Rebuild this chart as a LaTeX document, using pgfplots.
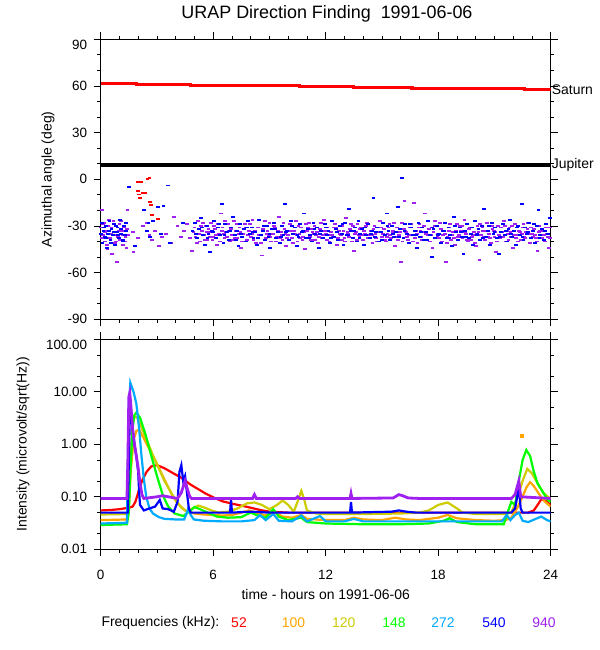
\documentclass[border=0pt]{standalone}
\usepackage{fontspec}
\setmainfont{Liberation Sans}
\usepackage{pgfplots}
\pgfplotsset{compat=1.18}
\definecolor{cA}{RGB}{255,0,0}
\definecolor{cB}{RGB}{255,165,0}
\definecolor{cC}{RGB}{204,204,0}
\definecolor{cD}{RGB}{0,255,0}
\definecolor{cE}{RGB}{0,170,255}
\definecolor{cF}{RGB}{0,0,255}
\definecolor{cG}{RGB}{160,32,240}
\pgfplotsset{
  common/.style={
    scale only axis, width=450bp, xmin=0, xmax=24,
    xtick={0,6,12,18,24}, minor x tick num=5,
    tick align=outside, major tick length=7bp, minor tick length=3.5bp,
    tick style={black, line width=0.8bp}, axis line style={line width=0.8bp},
    tick label style={font=\fontsize{13.5}{16}\selectfont},
    /pgf/number format/assume math mode=true,
    yticklabel style={xshift=-3bp},
    clip mode=individual,
  },
  dash/.style={only marks, mark=-, mark size=1.9bp, mark options={line width=1.9bp}},
  iline/.style={line width=2.2bp, no marks},
}
\begin{document}
\begin{tikzpicture}
\path[use as bounding box] (0bp,0bp) rectangle (600bp,650bp);
\node[font=\fontsize{18}{20}\selectfont] at (327bp,636bp) {URAP Direction Finding\ \ 1991-06-06};
\node[font=\fontsize{14}{16}\selectfont, rotate=90] at (48bp,470.7bp) {Azimuthal angle (deg)};
\node[font=\fontsize{14}{16}\selectfont, rotate=90] at (23bp,205.7bp) {Intensity (microvolt/sqrt(Hz))};
\node[font=\fontsize{14}{16}\selectfont] at (325.7bp,55bp) {time - hours on 1991-06-06};
% ---------------- top panel
\begin{axis}[common, at={(100.7bp,330.7bp)}, anchor=south west, height=280bp,
  ymin=-90, ymax=90, ytick={-90,-60,-30,0,30,60}, minor ytick={-80,-70,-50,-40,-20,-10,10,20,40,50,70,80},
  extra y ticks={90}, extra y tick labels={90},
  extra y tick style={yticklabel style={yshift=-6bp}},
  xticklabels={},
]
\addplot[cA, line width=3.2bp, const plot, no marks] coordinates {(0,61.5) (1.9,61) (4.8,60.3) (10.6,59.6) (13.5,58.9) (16.6,58.2) (22.6,57.5) (24,57.5)};
\addplot[black, line width=3.2bp, no marks] coordinates {(0,9.2) (24,9.2)};
\addplot[dash, cG] coordinates {
(0.02,-31) (0.08,-20) (0.12,-36) (0.18,-28) (0.25,-40) (0.3,-33) (0.36,-45) (0.42,-30) (0.5,-38) (0.55,-35) (0.62,-48) (0.68,-27) (0.75,-41) (0.8,-34) (0.88,-53) (0.93,-37) (1.0,-29) (1.05,-39) (1.12,-33) (1.2,-42) (1.26,-31) (1.32,-37) (1.38,-44) (1.43,-20) (1.46,-36) (1.72,-34) (1.75,-47) (2.0,-38) (2.25,-30) (2.45,-28) (2.6,-36) (2.75,-39) (2.9,-33) (3.1,-43) (3.25,-37) (3.5,-35) (3.75,-41) (3.9,-24) (4.1,-30) (4.3,-37) (4.45,-33) (4.6,-29) (4.75,-38) (4.85,-46)
(5.0,-31) (5.1,-35) (5.2,-27) (5.3,-40) (5.42,-33) (5.5,-36) (5.6,-30) (5.7,-39) (5.8,-34) (5.9,-28) (6.0,-37) (6.1,-32) (6.2,-42) (6.3,-35) (6.4,-22) (6.5,-31) (6.6,-38) (6.7,-34) (6.8,-29) (6.9,-40) (7.0,-36) (7.1,-27) (7.2,-33) (7.3,-38) (7.4,-31) (7.5,-44) (7.6,-35) (7.7,-29) (7.8,-39) (7.9,-33) (8.0,-37) (8.1,-26) (8.2,-34) (8.3,-41) (8.4,-31) (8.5,-36) (8.6,-49) (8.7,-30) (8.8,-38) (8.9,-33) (9.0,-28) (9.1,-40) (9.2,-35) (9.3,-31) (9.4,-37) (9.5,-24) (9.6,-34) (9.7,-39) (9.8,-32) (9.9,-43)
(10.0,-36) (10.1,-29) (10.2,-38) (10.3,-33) (10.4,-27) (10.5,-40) (10.6,-35) (10.7,-31) (10.8,-37) (10.9,-45) (11.0,-33) (11.1,-28) (11.2,-39) (11.3,-34) (11.4,-30) (11.5,-36) (11.6,-41) (11.7,-32) (11.8,-38) (11.9,-26) (12.0,-35) (12.1,-31) (12.2,-40) (12.3,-34) (12.4,-37) (12.5,-29) (12.6,-42) (12.7,-33) (12.8,-36) (12.9,-30) (13.0,-38) (13.1,-25) (13.2,-35) (13.3,-32) (13.4,-40) (13.5,-46) (13.6,-34) (13.7,-29) (13.8,-37) (13.9,-31) (14.0,-39) (14.1,-35) (14.2,-28) (14.3,-36) (14.4,-33) (14.5,-41) (14.6,-30) (14.7,-38) (14.8,-34) (14.9,-27)
(15.0,-37) (15.1,-32) (15.2,-40) (15.3,-35) (15.4,-29) (15.5,-38) (15.6,-33) (15.7,-43) (15.8,-31) (15.9,-36) (16.0,-53) (16.05,-28) (16.2,-14) (16.3,-34) (16.4,-39) (16.5,-31) (16.6,-36) (16.7,-15) (16.8,-33) (16.9,-41) (17.0,-29) (17.1,-37) (17.2,-34) (17.3,-22) (17.4,-39) (17.5,-32) (17.6,-36) (17.7,-44) (17.8,-30) (17.9,-38) (18.0,-35) (18.1,-28) (18.2,-40) (18.3,-33) (18.4,-53) (18.5,-37) (18.6,-31) (18.7,-39) (18.8,-34) (18.9,-42) (19.0,-29) (19.1,-36) (19.2,-33) (19.3,-38) (19.4,-26) (19.5,-35) (19.6,-40) (19.7,-31) (19.8,-37) (19.9,-34)
(20.0,-43) (20.1,-30) (20.2,-52) (20.3,-36) (20.4,-33) (20.5,-39) (20.6,-28) (20.7,-35) (20.8,-41) (20.9,-32) (21.0,-37) (21.1,-47) (21.2,-30) (21.3,-38) (21.4,-34) (21.5,-27) (21.6,-40) (21.7,-35) (21.8,-31) (21.9,-37) (22.0,-44) (22.1,-29) (22.2,-36) (22.3,-33) (22.4,-39) (22.5,-31) (22.6,-37) (22.7,-34) (22.8,-28) (22.9,-41) (23.0,-35) (23.1,-32) (23.2,-38) (23.3,-46) (23.4,-30) (23.5,-36) (23.6,-33) (23.7,-40) (23.8,-35) (23.9,-44) (23.95,-31)
(5.06,-37) (5.36,-30) (5.66,-34) (5.96,-39) (6.26,-29) (6.56,-35) (6.86,-33) (7.16,-38) (7.46,-34) (7.76,-31) (8.06,-35) (8.36,-38) (8.66,-32) (8.96,-36) (9.26,-30) (9.56,-38) (9.86,-35) (10.16,-33) (10.46,-36) (10.76,-39) (11.06,-31) (11.36,-35) (11.66,-37) (11.96,-33) (12.26,-36) (12.56,-31) (12.86,-39) (13.16,-34) (13.46,-30) (13.76,-36) (14.06,-33) (14.36,-38) (14.66,-35) (14.96,-31) (15.26,-37) (15.56,-34) (15.86,-39) (16.16,-32) (16.46,-36) (16.76,-38) (17.06,-33) (17.36,-35) (17.66,-31) (17.96,-37) (18.26,-36) (18.56,-33) (18.86,-38) (19.16,-30) (19.46,-34) (19.76,-39) (20.06,-35) (20.36,-31) (20.66,-37) (20.96,-33) (21.26,-36) (21.56,-30) (21.86,-34) (22.16,-38) (22.46,-35) (22.76,-32) (23.06,-37) (23.36,-34) (23.66,-36) (23.96,-38)
(0.06,-38) (0.14,-29) (0.21,-34) (0.33,-42) (0.45,-26) (0.58,-31) (0.7,-36) (0.83,-40) (0.97,-33) (1.09,-27) (1.17,-36) (1.29,-40) (1.41,-32)
(4.95,-34) (5.15,-41) (5.25,-35) (5.45,-28) (5.55,-39) (5.75,-32) (5.85,-37) (6.05,-30) (6.15,-36) (6.35,-40) (6.45,-33) (6.65,-27) (6.75,-37) (6.95,-32) (7.05,-39) (7.25,-29) (7.35,-35) (7.55,-40) (7.65,-32) (7.85,-36) (7.95,-29) (8.15,-39) (8.25,-33) (8.45,-36) (8.55,-41) (8.75,-27) (8.85,-35) (9.05,-37) (9.15,-32) (9.35,-40) (9.45,-33) (9.65,-36) (9.75,-28) (9.95,-38) (10.05,-33) (10.25,-41) (10.35,-35) (10.55,-30) (10.65,-38) (10.85,-34) (10.95,-29) (11.15,-37) (11.25,-32) (11.45,-39) (11.55,-34) (11.75,-28) (11.85,-36) (12.05,-39) (12.15,-33) (12.35,-36) (12.45,-31) (12.65,-38) (12.75,-35) (12.95,-33) (13.05,-40) (13.25,-37) (13.35,-29) (13.55,-35) (13.65,-39) (13.85,-32) (13.95,-36) (14.15,-30) (14.25,-38) (14.45,-36) (14.55,-32) (14.75,-40) (14.85,-31) (15.05,-35) (15.15,-39) (15.35,-31) (15.45,-36) (15.65,-28) (15.75,-37) (15.95,-34) (16.1,-40) (16.25,-33) (16.35,-37) (16.55,-29) (16.65,-40) (16.85,-35) (16.95,-31) (17.15,-39) (17.25,-30) (17.45,-36) (17.55,-40) (17.75,-34) (17.85,-27) (18.05,-38) (18.15,-32) (18.35,-35) (18.45,-41) (18.65,-29) (18.75,-36) (18.95,-33) (19.05,-37) (19.25,-30) (19.35,-34) (19.55,-39) (19.65,-32) (19.85,-36) (19.95,-41) (20.15,-34) (20.25,-29) (20.45,-37) (20.55,-33) (20.75,-38) (20.85,-30) (21.05,-34) (21.15,-40) (21.35,-31) (21.45,-37) (21.65,-33) (21.75,-39) (21.95,-30) (22.05,-36) (22.25,-40) (22.35,-34) (22.55,-29) (22.65,-38) (22.85,-35) (22.95,-31) (23.15,-36) (23.25,-40) (23.45,-33) (23.55,-38) (23.75,-31) (23.85,-37)
};
\addplot[dash, cF] coordinates {
(0.05,-28) (0.1,-41) (0.15,-33) (0.22,-37) (0.28,-30) (0.33,-44) (0.4,-35) (0.47,-27) (0.52,-39) (0.58,-32) (0.65,-36) (0.72,-29) (0.78,-42) (0.85,-34) (0.9,-31) (0.97,-38) (1.03,-26) (1.1,-35) (1.17,-40) (1.23,-30) (1.3,-36) (1.35,-33) (1.5,-5) (1.85,-43) (2.3,-20) (2.45,-33) (2.55,-28) (2.65,-37) (2.8,-27) (3.05,-18) (3.2,-35) (3.35,-17) (3.6,-4) (3.7,-41) (4.4,-28) (4.9,-33)
(5.05,-28) (5.15,-38) (5.25,-32) (5.35,-25) (5.45,-36) (5.55,-42) (5.65,-30) (5.75,-35) (5.85,-47) (5.95,-33) (6.05,-27) (6.15,-38) (6.25,-31) (6.35,-36) (6.45,-16) (6.55,-41) (6.65,-29) (6.75,-34) (6.85,-39) (6.95,-31) (7.05,-24) (7.15,-36) (7.25,-33) (7.35,-43) (7.45,-29) (7.55,-37) (7.65,-32) (7.75,-40) (7.85,-27) (7.95,-35) (8.05,-31) (8.15,-38) (8.25,-34) (8.35,-42) (8.45,-26) (8.55,-36) (8.65,-33) (8.75,-39) (8.85,-30) (8.95,-37) (9.05,-44) (9.15,-32) (9.25,-28) (9.35,-38) (9.45,-34) (9.55,-41) (9.65,-30) (9.75,-36) (9.85,-16) (9.95,-33)
(10.05,-39) (10.15,-27) (10.25,-35) (10.35,-31) (10.45,-43) (10.55,-37) (10.65,-29) (10.75,-34) (10.85,-22) (10.95,-38) (11.05,-32) (11.15,-36) (11.25,-40) (11.35,-28) (11.45,-35) (11.55,-31) (11.65,-44) (11.75,-33) (11.85,-38) (11.95,-29) (12.05,-36) (12.15,-33) (12.25,-41) (12.35,-27) (12.45,-37) (12.55,-32) (12.65,-39) (12.75,-30) (12.85,-35) (12.95,-42) (13.05,-28) (13.15,-36) (13.25,-19) (13.35,-33) (13.45,-38) (13.55,-31) (13.65,-40) (13.75,-27) (13.85,-35) (13.95,-32) (14.05,-42) (14.15,-36) (14.25,-29) (14.35,-38) (14.45,-33) (14.55,-12) (14.65,-37) (14.75,-31) (14.85,-40) (14.95,-34)
(15.05,-28) (15.15,-36) (15.25,-22) (15.35,-33) (15.45,-39) (15.55,-30) (15.65,-37) (15.75,-34) (15.85,-18) (15.95,-32) (16.07,1) (16.15,-38) (16.25,-29) (16.35,-35) (16.45,-41) (16.55,-31) (16.65,-36) (16.75,-33) (16.85,-44) (16.95,-28) (17.05,-37) (17.15,-31) (17.25,-39) (17.35,-34) (17.45,-27) (17.55,-36) (17.65,-50) (17.75,-32) (17.85,-38) (17.95,-30) (18.05,-35) (18.15,-41) (18.25,-33) (18.35,-28) (18.45,-38) (18.55,-31) (18.65,-36) (18.75,-43) (18.85,-24) (18.95,-34) (19.05,-39) (19.15,-31) (19.25,-37) (19.35,-48) (19.45,-33) (19.55,-29) (19.65,-38) (19.75,-35) (19.85,-42) (19.95,-27)
(20.05,-36) (20.15,-32) (20.25,-39) (20.35,-30) (20.45,-19) (20.55,-37) (20.65,-33) (20.75,-42) (20.85,-28) (20.95,-35) (21.05,-31) (21.15,-38) (21.25,-48) (21.35,-34) (21.45,-29) (21.55,-36) (21.65,-40) (21.75,-32) (21.85,-26) (21.95,-37) (22.05,-33) (22.15,-42) (22.25,-30) (22.35,-36) (22.45,-16) (22.55,-39) (22.65,-31) (22.75,-35) (22.85,-28) (22.95,-38) (23.05,-33) (23.15,-41) (23.25,-30) (23.35,-20) (23.45,-36) (23.55,-32) (23.65,-39) (23.75,-29) (23.85,-35) (23.95,-25)
(0.03,-35) (0.18,-31) (0.3,-38) (0.43,-33) (0.55,-41) (0.68,-34) (0.82,-30) (0.94,-36) (1.07,-32) (1.2,-39) (1.33,-28)
(5.1,-35) (5.4,-31) (5.7,-38) (6.0,-34) (6.3,-29) (6.6,-36) (6.9,-33) (7.2,-39) (7.5,-35) (7.8,-31) (8.1,-34) (8.4,-38) (8.7,-30) (9.0,-35) (9.3,-32) (9.6,-37) (9.9,-34) (10.2,-30) (10.5,-36) (10.8,-33) (11.1,-38) (11.4,-32) (11.7,-35) (12.0,-31) (12.3,-38) (12.6,-34) (12.9,-29) (13.2,-36) (13.5,-33) (13.8,-38) (14.1,-31) (14.4,-35) (14.7,-34) (15.0,-39) (15.3,-30) (15.6,-35) (15.9,-37) (16.2,-33) (16.5,-29) (16.8,-36) (17.1,-34) (17.4,-39) (17.7,-31) (18.0,-36) (18.3,-33) (18.6,-38) (18.9,-30) (19.2,-34) (19.5,-37) (19.8,-31) (20.1,-35) (20.4,-38) (20.7,-30) (21.0,-34) (21.3,-37) (21.6,-33) (21.9,-35) (22.2,-31) (22.5,-37) (22.8,-34) (23.1,-29) (23.4,-38) (23.7,-33)
};
\addplot[dash, cA] coordinates {(1.97,-1.5) (1.97,-7.6) (2.05,-9.8) (2.11,-12.3) (2.13,-1.5) (2.26,-8.6) (2.39,-9) (2.5,0) (2.6,0.8) (2.63,-14.4) (2.67,-16.5) (2.73,-23) (3.04,-25.5)};
\node[anchor=west, font=\fontsize{14}{16}\selectfont, inner sep=1bp] at (axis cs:24,57.5) {Saturn};
\node[anchor=west, font=\fontsize{14}{16}\selectfont, inner sep=1bp] at (axis cs:24,9.2) {Jupiter};
\end{axis}
% ---------------- bottom panel
\begin{axis}[common, at={(100.7bp,100.7bp)}, anchor=south west, height=210bp,
  ymode=log, ymin=0.01, ymax=100,
  ytick={0.01,0.1,1,10}, yticklabels={0.01,0.10,1.00,10.00},
  extra y ticks={100}, extra y tick labels={100.00},
  extra y tick style={yticklabel style={yshift=-6bp}},
  minor ytick={0.02,0.05,0.2,0.5,2,5,20,50},
  xticklabel style={yshift=-10bp},
]
\addplot[iline, cA] coordinates {(0,0.055) (0.5,0.056) (1.0,0.058) (1.5,0.062) (1.7,0.065) (1.85,0.08) (2.0,0.12) (2.2,0.2) (2.45,0.3) (2.7,0.38) (3.0,0.4) (3.4,0.35) (3.8,0.29) (4.3,0.23) (4.8,0.17) (5.2,0.14) (5.6,0.115) (6.1,0.094) (6.5,0.082) (7.0,0.074) (7.5,0.068) (8.0,0.062) (8.5,0.056) (9.0,0.052) (10,0.05) (12,0.05) (15,0.05) (18,0.05) (21,0.05) (22.8,0.05) (23.1,0.055) (23.3,0.07) (23.5,0.09) (23.7,0.085) (24,0.07)};
\addplot[iline, cB] coordinates {(0,0.036) (1.4,0.037) (1.5,0.06) (1.6,0.3) (1.75,1.2) (1.9,1.8) (2.05,1.9) (2.3,1.3) (2.6,0.8) (2.9,0.5) (3.2,0.3) (3.5,0.18) (3.8,0.11) (4.1,0.075) (4.5,0.055) (5.0,0.048) (5.5,0.046) (6.0,0.045) (6.5,0.044) (7.0,0.045) (7.5,0.05) (7.9,0.055) (8.3,0.05) (8.8,0.044) (9.3,0.05) (9.7,0.042) (10.2,0.04) (10.7,0.045) (11.0,0.038) (12,0.036) (13,0.036) (13.5,0.04) (14,0.037) (15,0.036) (15.7,0.04) (16.3,0.037) (17,0.036) (18,0.04) (18.5,0.045) (19,0.039) (20,0.036) (21,0.035) (21.6,0.036) (21.9,0.04) (22.2,0.06) (22.5,0.1) (22.7,0.15) (22.9,0.19) (23.1,0.16) (23.4,0.11) (23.7,0.08) (24,0.065)};
\addplot[only marks, mark=square*, mark size=1.2bp, cB] coordinates {(22.45,1.45)};
\addplot[iline, cC] coordinates {(0,0.046) (1.4,0.047) (1.5,0.08) (1.6,0.5) (1.7,2.5) (1.8,3.4) (1.95,3.2) (2.2,2.0) (2.5,1.1) (2.8,0.6) (3.1,0.35) (3.4,0.2) (3.7,0.13) (4.0,0.085) (4.3,0.062) (4.6,0.052) (4.9,0.06) (5.2,0.068) (5.5,0.063) (5.9,0.055) (6.3,0.05) (6.8,0.052) (7.3,0.06) (7.8,0.075) (8.2,0.078) (8.6,0.07) (9.0,0.058) (9.4,0.07) (9.7,0.085) (10.0,0.07) (10.3,0.052) (10.55,0.09) (10.7,0.13) (10.85,0.09) (11.0,0.055) (11.5,0.048) (12,0.047) (14,0.047) (16,0.048) (17,0.05) (17.5,0.055) (18.0,0.07) (18.5,0.078) (19.0,0.06) (19.3,0.05) (20,0.047) (21.5,0.047) (21.9,0.05) (22.2,0.09) (22.5,0.2) (22.75,0.34) (23.0,0.28) (23.3,0.18) (23.6,0.12) (24,0.09)};
\addplot[iline, cD] coordinates {(0,0.029) (1.4,0.03) (1.5,0.05) (1.6,0.4) (1.7,2.0) (1.8,3.6) (1.9,4.0) (2.1,3.2) (2.4,1.5) (2.7,0.6) (3.0,0.25) (3.3,0.11) (3.6,0.065) (3.95,0.048) (4.4,0.043) (4.8,0.055) (5.0,0.064) (5.3,0.058) (5.7,0.05) (6.2,0.042) (6.8,0.04) (7.5,0.041) (8.0,0.05) (8.3,0.045) (8.8,0.04) (9.2,0.058) (9.5,0.042) (10,0.036) (10.7,0.04) (11,0.033) (12,0.031) (14,0.03) (16,0.03) (17.5,0.031) (18.3,0.035) (18.6,0.039) (19,0.033) (20,0.03) (21.5,0.03) (21.7,0.05) (21.9,0.08) (22.1,0.07) (22.3,0.2) (22.5,0.5) (22.7,0.78) (22.9,0.6) (23.1,0.3) (23.3,0.18) (23.6,0.12) (23.85,0.087) (24,0.08)};
\addplot[iline, cE] coordinates {(0,0.031) (1.4,0.032) (1.45,0.5) (1.5,5) (1.58,14.9) (1.75,10) (1.9,6) (2.05,2.0) (2.17,0.63) (2.3,0.22) (2.43,0.1) (2.6,0.06) (2.79,0.048) (3.1,0.041) (3.4,0.038) (4.0,0.037) (4.45,0.037) (4.6,0.05) (4.68,0.062) (4.8,0.045) (4.97,0.037) (5.5,0.035) (6.5,0.034) (7.5,0.034) (8.2,0.036) (8.5,0.045) (8.8,0.036) (9.2,0.047) (9.5,0.035) (10.2,0.034) (10.7,0.044) (11.0,0.034) (11.7,0.043) (12.0,0.034) (13.0,0.034) (13.5,0.038) (14,0.034) (16,0.034) (18,0.034) (19,0.034) (21.4,0.034) (21.65,0.045) (21.85,0.036) (22.1,0.045) (22.3,0.05) (22.5,0.035) (22.8,0.033) (23.2,0.038) (23.5,0.042) (23.8,0.036) (24,0.034)};
\addplot[iline, cF] coordinates {(0,0.05) (1.45,0.05) (1.5,0.5) (1.55,3.0) (1.6,5.0) (1.7,2) (1.8,1.0) (1.9,0.6) (2.0,0.3) (2.05,0.12) (2.1,0.07) (2.3,0.055) (2.6,0.06) (2.9,0.065) (3.15,0.087) (3.3,0.06) (3.6,0.058) (3.9,0.052) (4.1,0.08) (4.2,0.3) (4.3,0.4) (4.4,0.2) (4.5,0.25) (4.6,0.12) (4.7,0.06) (4.8,0.05) (6.9,0.05) (6.95,0.09) (7.0,0.05) (8,0.052) (9,0.05) (13.3,0.05) (13.35,0.08) (13.4,0.05) (15.5,0.052) (15.9,0.055) (16.3,0.052) (16.8,0.05) (21.9,0.05) (22.1,0.06) (22.3,0.15) (22.4,0.06) (22.5,0.05) (24,0.05)};
\addplot[cG, line width=2.8bp, no marks] coordinates {(0,0.093) (1.4,0.093) (1.45,0.5) (1.5,8) (1.55,9.5) (1.6,6) (1.7,2) (1.8,1.0) (1.9,0.6) (2.0,0.35) (2.08,0.2) (2.2,0.11) (2.3,0.093) (3.0,0.1) (3.3,0.105) (3.8,0.097) (4.1,0.093) (4.3,0.12) (4.5,0.2) (4.6,0.15) (4.75,0.1) (4.85,0.093) (8.1,0.093) (8.2,0.11) (8.3,0.093) (10.4,0.093) (10.5,0.1) (10.6,0.093) (13.3,0.093) (13.35,0.115) (13.4,0.093) (15.6,0.095) (15.9,0.11) (16.1,0.105) (16.4,0.095) (17,0.093) (21.9,0.093) (22.1,0.11) (22.3,0.2) (22.4,0.1) (24,0.093)};
\end{axis}
\begin{scope}[font=\fontsize{14}{16}\selectfont]
\node[anchor=west] at (98bp,27bp) {Frequencies (kHz):};
\node[cA] at (239bp,27bp) {52};
\node[cB] at (293.6bp,27bp) {100};
\node[cC] at (343.7bp,27bp) {120};
\node[cD] at (394bp,27bp) {148};
\node[cE] at (443bp,27bp) {272};
\node[cF] at (494bp,27bp) {540};
\node[cG] at (544bp,27bp) {940};
\end{scope}
\end{tikzpicture}
\end{document}
